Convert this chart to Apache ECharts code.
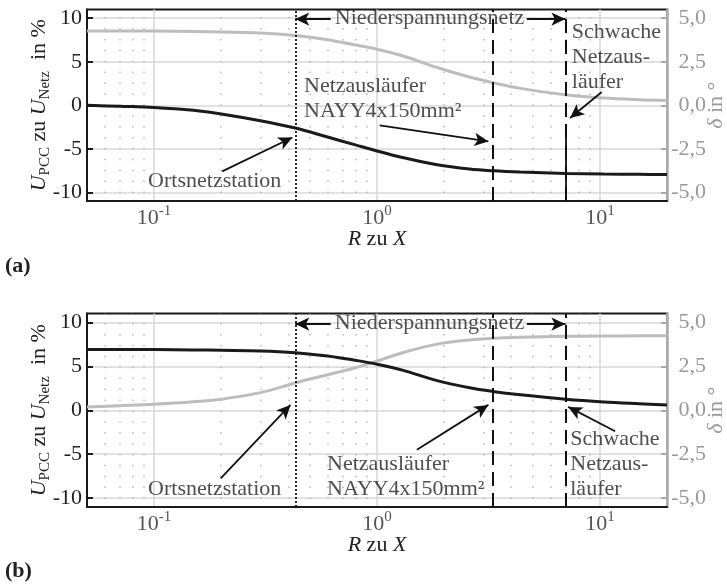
<!DOCTYPE html>
<html><head><meta charset="utf-8">
<script src="https://cdn.jsdelivr.net/npm/echarts@6/dist/echarts.min.js"></script>
<style>html,body{margin:0;padding:0;background:#fff}#c{width:727px;height:585px}</style>
</head><body><div id="c"></div>
<script>
// ---- data ----
const rzx = [0.05, 0.07, 0.1, 0.15, 0.2, 0.3, 0.43, 0.6, 0.8, 1.0, 1.3, 1.86, 2.6, 3.3, 4.4, 7, 10.4, 15, 20];
const uA  = [0.00, -0.12, -0.25, -0.58, -1.00, -1.78, -2.62, -3.65, -4.55, -5.25, -6.00, -6.84, -7.33, -7.53, -7.68, -7.84, -7.91, -7.94, -7.95];
const dA  = [4.26, 4.26, 4.26, 4.24, 4.21, 4.15, 4.00, 3.76, 3.46, 3.22, 2.84, 2.17, 1.62, 1.30, 0.97, 0.60, 0.41, 0.32, 0.28];
const uB  = [6.90, 6.90, 6.90, 6.86, 6.82, 6.75, 6.55, 6.17, 5.68, 5.24, 4.56, 3.37, 2.55, 2.14, 1.76, 1.26, 0.95, 0.75, 0.61];
const dB  = [0.19, 0.26, 0.34, 0.48, 0.63, 1.00, 1.55, 2.02, 2.42, 2.80, 3.27, 3.76, 4.00, 4.09, 4.15, 4.20, 4.22, 4.23, 4.23];
const leftTicks  = [-10, -5, 0, 5, 10];
const rightTicks = [-5, -2.5, 0, 2.5, 5];
const minorX = [0.06, 0.07, 0.08, 0.09, 0.2, 0.3, 0.4, 0.5, 0.6, 0.7, 0.8, 0.9, 2, 3, 4, 5, 6, 7, 8, 9];
const xOrtsnetz = 0.43, xKabel = 3.3, xSchwach = 7;

// annotations per panel: text [x, y], arrows [[x0,y0],[x1,y1]]
const notesA = {
  orts: [0.188, -8.76], kabel: [0.473, 0.72], schwach: [7.52, 5.43], nieder: [1.73, 9.9],
  arrOrts: [[0.202, -7.6], [0.417, -3.7]], arrKabel: [[1.028, -2.32], [3.16, -4.16]],
  arrSchwach: [[10.19, 1.52], [7.35, -1.47]], niederGap: [0.62, 4.7], solidTop: -3.4
};
const notesB = {
  orts: [0.188, -9.0], kabel: [0.6, -7.64], schwach: [7.4, -6.2], nieder: [1.73, 9.8],
  arrOrts: [[0.199, -7.75], [0.409, 0.61]], arrKabel: [[1.51, -4.48], [3.16, 0.61]],
  arrSchwach: [[11.7, -2.38], [7.21, 0.38]], niederGap: [0.62, 4.7], solidTop: null
};

const FONT = '"Liberation Serif","DejaVu Serif",serif';
const FS = 22;
const chart = echarts.init(document.getElementById('c'), null, {renderer: 'canvas'});
const tops = [9.5, 313.5], heights = [191.5, 193.5];

const grids = [], xAxes = [], yAxes = [], series = [];
const richBase = {
  i: {fontFamily: FONT, fontSize: FS, fontStyle: 'italic', color: '#222'},
  r: {fontFamily: FONT, fontSize: FS, color: '#222'},
  s: {fontFamily: FONT, fontSize: 15, color: '#222', padding: [12, 0, 0, 0]}
};
[notesA, notesB].forEach((n, p) => {
  const U = p === 0 ? uA : uB, D = p === 0 ? dA : dB;
  grids.push({left: 87, width: 580, top: tops[p], height: heights[p], show: true,
    borderColor: '#1a1a1a', borderWidth: 2, outerBoundsMode: 'none'});
  xAxes.push({
    type: 'log', logBase: 10, gridIndex: p, min: 0.05, max: 20,
    axisLine: {show: true, onZero: false, lineStyle: {color: '#1a1a1a', width: 2}},
    axisTick: {show: false},
    splitLine: {show: true, lineStyle: {color: '#d8d8d8', width: 1.5}},
    axisLabel: {
      margin: 3,
      formatter: v => { const e = Math.log10(v), r = Math.round(e); return Math.abs(e - r) > 1e-6 ? '' : '{b|10}{s|' + r + '}'; },
      rich: {b: {fontFamily: FONT, fontSize: FS, color: '#555'}, s: {fontFamily: FONT, fontSize: 15, color: '#555', padding: [0, 0, 13, 0]}}
    },
    name: '{i|R}{r| zu }{i|X}', nameLocation: 'middle', nameGap: 27, nameMoveOverlap: false,
    nameTextStyle: {rich: richBase}
  });
  yAxes.push({
    type: 'value', gridIndex: p, position: 'left', min: -11, max: 11,
    axisLine: {show: true, onZero: false, lineStyle: {color: '#1a1a1a', width: 2}},
    axisTick: {show: true, inside: true, length: 6, customValues: leftTicks, lineStyle: {color: '#1a1a1a', width: 2}},
    axisLabel: {customValues: leftTicks, margin: 5, color: '#222', fontFamily: FONT, fontSize: FS},
    splitLine: {show: true, lineStyle: {color: '#d8d8d8', width: 1.5}},
    name: '{i|U}{s|PCC}{r| zu }{i|U}{s|Netz}{r|  in %}', nameLocation: 'middle', nameRotate: 90, nameGap: 34,
    nameMoveOverlap: false,
    nameTextStyle: {rich: richBase}
  });
  yAxes.push({
    type: 'value', gridIndex: p, position: 'right', min: -5.5, max: 5.5,
    axisLine: {show: true, onZero: false, lineStyle: {color: '#aaaaaa', width: 2.5}},
    axisTick: {show: true, inside: true, length: 6, customValues: rightTicks, lineStyle: {color: '#aaaaaa', width: 2}},
    axisLabel: {customValues: rightTicks, margin: 4,
      formatter: v => '{v|' + v.toFixed(1).replace('.', ',') + '}',
      rich: {v: {fontFamily: FONT, fontSize: FS, color: '#999', width: 35, align: 'right'}}},
    splitLine: {show: false},
    name: '{i|δ}{r| in °}', nameLocation: 'middle', nameRotate: 90, nameGap: 38, nameMoveOverlap: false,
    nameTextStyle: {rich: {i: {fontFamily: FONT, fontSize: FS, fontStyle: 'italic', color: '#999'}, r: {fontFamily: FONT, fontSize: FS, color: '#999'}}}
  });
  const yl = 2 * p, yr = 2 * p + 1;
  // minor dotted grid
  series.push({type: 'line', xAxisIndex: p, yAxisIndex: yl, data: [], silent: true,
    markLine: {silent: true, z: 1, symbol: ['none', 'none'], label: {show: false}, animation: false,
      lineStyle: {color: '#b8b8b8', width: 1.5, type: [1.5, 9.4], dashOffset: 2.9},
      emphasis: {disabled: true},
      data: minorX.map(v => ({xAxis: v}))}});
  series.push({type: 'line', xAxisIndex: p, yAxisIndex: yr, data: rzx.map((x, i) => [x, D[i]]),
    symbol: 'none', smooth: 0.35, z: 3, lineStyle: {color: '#bdbdbd', width: 3}});
  series.push({type: 'line', xAxisIndex: p, yAxisIndex: yl, data: rzx.map((x, i) => [x, U[i]]),
    symbol: 'none', smooth: 0.35, z: 4, lineStyle: {color: '#1a1a1a', width: 3}});
  // annotation lines
  const arrow = (a, b) => [{coord: a, symbol: 'none'}, {coord: b, symbol: 'arrow', symbolSize: [10, 14]}];
  const ml = [
    {xAxis: xOrtsnetz, lineStyle: {type: [2, 2], width: 1.8, color: '#111'}},
    {xAxis: xKabel, lineStyle: {type: [14, 7], width: 2, color: '#111'}},
    {xAxis: xSchwach, lineStyle: {type: [14, 7], width: 2, color: '#111'}},
    arrow(n.arrOrts[0], n.arrOrts[1]),
    arrow(n.arrKabel[0], n.arrKabel[1]),
    arrow(n.arrSchwach[0], n.arrSchwach[1]),
    arrow([n.niederGap[0], n.nieder[1]], [xOrtsnetz, n.nieder[1]]),
    arrow([n.niederGap[1], n.nieder[1]], [xSchwach, n.nieder[1]])
  ];
  if (n.solidTop !== null) ml.push([{coord: [xSchwach, -11], symbol: 'none'}, {coord: [xSchwach, n.solidTop], symbol: 'none'}]);
  series.push({type: 'line', xAxisIndex: p, yAxisIndex: yl, data: [], silent: true,
    markLine: {silent: true, z: 6, symbol: ['none', 'none'], label: {show: false}, animation: false,
      lineStyle: {color: '#111', width: 1.8, type: 'solid'}, emphasis: {disabled: true}, data: ml}});
  // annotation texts
  const txt = (pos, text, align) => ({value: pos, label: {formatter: text, align: align}});
  series.push({type: 'scatter', xAxisIndex: p, yAxisIndex: yl, symbol: 'circle', symbolSize: 1, z: 7, silent: true,
    itemStyle: {color: 'rgba(0,0,0,0)'},
    label: {show: true, position: [0, 0], verticalAlign: 'middle', fontFamily: FONT, fontSize: FS, color: '#222', lineHeight: 25},
    data: [
      txt(n.orts, 'Ortsnetzstation', 'center'),
      txt(n.kabel, 'Netzausläufer\nNAYY4x150mm²', 'left'),
      txt(n.schwach, 'Schwache\nNetzaus-\nläufer', 'left'),
      txt(n.nieder, 'Niederspannungsnetz', 'center')
    ]});
});

chart.setOption({
  animation: false,
  backgroundColor: '#fff',
  grid: grids, xAxis: xAxes, yAxis: yAxes, series: series,
  graphic: [
    {type: 'text', left: 5, top: 255, style: {text: '(a)', font: 'bold 22px ' + FONT, fill: '#222'}},
    {type: 'text', left: 5, top: 560, style: {text: '(b)', font: 'bold 22px ' + FONT, fill: '#222'}}
  ]
});
</script></body></html>
